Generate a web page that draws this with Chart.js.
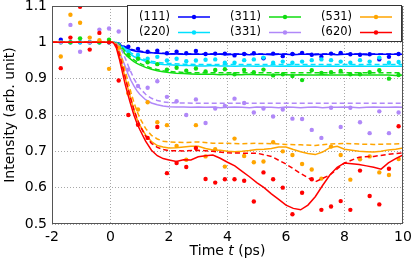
<!DOCTYPE html>
<html>
<head>
<meta charset="utf-8">
<script src="https://cdn.jsdelivr.net/npm/chart.js@4"></script>
<style>
  html, body { margin: 0; padding: 0; background: #fff; }
  #wrap { width: 415px; height: 260px; }
</style>
</head>
<body>
<div id="wrap"><canvas id="chart" width="415" height="260"></canvas></div>
<script>
const seriesLabels = ['(111)', '(220)', '(311)', '(331)', '(531)', '(620)'];
const seriesColors = ['#0000ff', '#00e0ff', '#11dd11', '#b088f8', '#ffa500', '#ff0000'];

const xTicks = [-2, 0, 2, 4, 6, 8, 10];
const yTicks = [0.5, 0.6, 0.7, 0.8, 0.9, 1, 1.1];

// measured points
const dotTime = [-1.70, -1.37, -1.04, -0.71, -0.38, -0.05, 0.28, 0.61, 0.94, 1.27, 1.60, 1.93,
  2.26, 2.59, 2.92, 3.25, 3.58, 3.91, 4.24, 4.57, 4.90, 5.23, 5.56, 5.89,
  6.22, 6.55, 6.88, 7.21, 7.54, 7.87, 8.20, 8.53, 8.86, 9.19, 9.52, 9.85];

const dots111 = [1.007, 1.0, 1.0, 1.0, 1.0, 1.0, 0.994, 0.988, 0.982, 0.974, 0.977, 0.970,
  0.974, 0.970, 0.976, 0.968, 0.969, 0.969, 0.964, 0.968, 0.970, 0.956, 0.969, 0.962,
  0.968, 0.971, 0.966, 0.960, 0.969, 0.971, 0.967, 0.966, 0.967, 0.953, 0.960, 0.968];
const dots220 = [1.0, 1.0, 1.0, 1.0, 1.0, 1.0, 0.990, 0.975, 0.965, 0.955, 0.960, 0.950,
  0.955, 0.948, 0.950, 0.952, 0.953, 0.944, 0.944, 0.951, 0.953, 0.958, 0.944, 0.947,
  0.944, 0.947, 0.951, 0.953, 0.951, 0.947, 0.944, 0.951, 0.947, 0.958, 0.944, 0.946];
const dots311 = [1.0, 1.0, 1.011, 1.0, 1.0, 1.007, 0.990, 0.965, 0.955, 0.945, 0.940, 0.925,
  0.930, 0.922, 0.928, 0.920, 0.924, 0.926, 0.912, 0.924, 0.918, 0.925, 0.909, 0.912,
  0.907, 0.896, 0.923, 0.916, 0.918, 0.921, 0.912, 0.912, 0.918, 0.923, 0.900, 0.910];
const dots331 = [1.0, 1.048, 0.974, 1.0, 1.035, 1.038, 1.030, 0.925, 0.880, 0.875, 0.893, 0.850,
  0.838, 0.800, 0.843, 0.778, 0.818, 0.825, 0.845, 0.833, 0.807, 0.818, 0.796, 0.815,
  0.790, 0.789, 0.759, 0.737, 0.820, 0.767, 0.820, 0.780, 0.750, 0.810, 0.750, 0.807];
const dots531 = [0.961, 1.076, 1.054, 1.013, 1.006, 0.927, 0.985, 0.860, 0.815, 0.835, 0.780, 0.772,
  0.715, 0.677, 0.772, 0.686, 0.706, 0.658, 0.735, 0.687, 0.670, 0.672, 0.725, 0.700,
  0.690, 0.665, 0.650, 0.625, 0.713, 0.690, 0.622, 0.678, 0.686, 0.642, 0.635, 0.679];
const dots620 = [0.929, 1.013, 1.098, 0.980, 1.026, 1.0, 0.895, 0.800, 0.773, 0.737, 0.767, 0.640,
  0.668, 0.657, 0.709, 0.624, 0.614, 0.623, 0.623, 0.619, 0.562, 0.642, 0.623, 0.600,
  0.527, 0.586, 0.623, 0.539, 0.548, 0.563, 0.539, 0.647, 0.577, 0.554, 0.652, 0.769];

// solid curves
const lineTime = [-2, -1, 0, 0.1, 0.2, 0.3, 0.4, 0.5, 0.6, 0.7, 0.8, 0.9, 1.0, 1.2, 1.4, 1.6, 1.8,
  2.0, 2.25, 2.5, 2.75, 3.0, 3.25, 3.5, 3.75, 4.0, 4.25, 4.5, 4.75, 5.0, 5.25, 5.5, 5.75,
  6.0, 6.25, 6.5, 6.75, 7.0, 7.25, 7.5, 7.75, 8.0, 8.25, 8.5, 8.75, 9.0, 9.25, 9.5, 9.75, 10];

const line111 = [1, 1, 1, 1, 0.999, 0.995, 0.990, 0.986, 0.982, 0.979, 0.977, 0.975, 0.974, 0.972, 0.971, 0.970, 0.969,
  0.968, 0.968, 0.967, 0.968, 0.967, 0.967, 0.968, 0.967, 0.966, 0.967, 0.967, 0.966, 0.967, 0.967, 0.966, 0.967,
  0.967, 0.966, 0.967, 0.967, 0.966, 0.967, 0.967, 0.966, 0.967, 0.967, 0.967, 0.966, 0.967, 0.967, 0.967, 0.967, 0.967];
const line220 = [1, 1, 1, 1, 0.999, 0.993, 0.986, 0.978, 0.972, 0.966, 0.961, 0.957, 0.954, 0.948, 0.944, 0.941, 0.939,
  0.938, 0.937, 0.936, 0.936, 0.935, 0.935, 0.936, 0.935, 0.935, 0.934, 0.935, 0.935, 0.934, 0.935, 0.935, 0.934,
  0.935, 0.934, 0.934, 0.935, 0.934, 0.934, 0.935, 0.934, 0.934, 0.934, 0.935, 0.934, 0.934, 0.934, 0.934, 0.934, 0.934];
const line311 = [1, 1, 1, 1, 0.998, 0.990, 0.978, 0.968, 0.960, 0.953, 0.947, 0.942, 0.938, 0.931, 0.926, 0.922, 0.919,
  0.917, 0.915, 0.914, 0.913, 0.912, 0.912, 0.912, 0.911, 0.912, 0.911, 0.911, 0.912, 0.911, 0.911, 0.910, 0.911,
  0.911, 0.910, 0.911, 0.910, 0.910, 0.911, 0.910, 0.910, 0.910, 0.911, 0.910, 0.910, 0.910, 0.910, 0.910, 0.909, 0.910];
const line331 = [1, 1, 1, 1, 0.995, 0.975, 0.955, 0.935, 0.913, 0.895, 0.880, 0.867, 0.857, 0.842, 0.833, 0.828, 0.825,
  0.823, 0.822, 0.822, 0.821, 0.822, 0.821, 0.822, 0.820, 0.821, 0.822, 0.821, 0.820, 0.822, 0.821, 0.821, 0.820,
  0.822, 0.821, 0.820, 0.821, 0.822, 0.820, 0.821, 0.821, 0.822, 0.821, 0.820, 0.821, 0.822, 0.821, 0.821, 0.822, 0.821];
const line531 = [1, 1, 1, 1, 0.990, 0.965, 0.935, 0.903, 0.872, 0.843, 0.815, 0.790, 0.772, 0.745, 0.727, 0.716, 0.712,
  0.709, 0.710, 0.712, 0.714, 0.714, 0.708, 0.704, 0.703, 0.700, 0.699, 0.700, 0.702, 0.705, 0.706, 0.708, 0.712,
  0.712, 0.705, 0.699, 0.694, 0.691, 0.698, 0.710, 0.714, 0.706, 0.703, 0.700, 0.699, 0.698, 0.700, 0.704, 0.706, 0.709];
const line620 = [1, 1, 1, 0.999, 0.985, 0.955, 0.920, 0.885, 0.855, 0.827, 0.800, 0.778, 0.760, 0.728, 0.703, 0.688, 0.680,
  0.676, 0.672, 0.677, 0.676, 0.685, 0.688, 0.690, 0.681, 0.670, 0.660, 0.645, 0.630, 0.614, 0.600, 0.583, 0.568,
  0.552, 0.543, 0.539, 0.552, 0.575, 0.606, 0.635, 0.656, 0.668, 0.666, 0.664, 0.660, 0.656, 0.651, 0.668, 0.680, 0.690];

// dashed curves
const fitTime = [-2, 0, 0.1, 0.2, 0.3, 0.4, 0.5, 0.6, 0.7, 0.8, 0.9, 1.0, 1.2, 1.4, 1.6, 1.8, 2.0,
  2.5, 3, 3.5, 4, 4.5, 5, 5.5, 6, 6.5, 7, 7.5, 8, 8.5, 9, 9.5, 10];

const fit111 = [1, 1, 1, 0.999, 0.996, 0.992, 0.988, 0.984, 0.981, 0.979, 0.977, 0.976, 0.973, 0.972, 0.971, 0.970, 0.969,
  0.968, 0.968, 0.968, 0.968, 0.968, 0.968, 0.968, 0.968, 0.968, 0.968, 0.968, 0.968, 0.968, 0.968, 0.968, 0.968];
const fit220 = [1, 1, 1, 1, 0.996, 0.990, 0.983, 0.977, 0.971, 0.966, 0.962, 0.958, 0.952, 0.948, 0.945, 0.943, 0.942,
  0.940, 0.939, 0.939, 0.939, 0.939, 0.939, 0.939, 0.939, 0.939, 0.939, 0.939, 0.939, 0.939, 0.939, 0.939, 0.939];
const fit311 = [1, 1, 1, 0.999, 0.994, 0.985, 0.975, 0.966, 0.958, 0.952, 0.946, 0.942, 0.935, 0.929, 0.925, 0.922, 0.920,
  0.917, 0.916, 0.916, 0.916, 0.916, 0.916, 0.916, 0.916, 0.916, 0.916, 0.916, 0.916, 0.916, 0.916, 0.916, 0.916];
const fit331 = [1, 1, 1, 0.998, 0.990, 0.975, 0.957, 0.937, 0.918, 0.900, 0.886, 0.874, 0.857, 0.846, 0.840, 0.836, 0.834,
  0.833, 0.832, 0.832, 0.832, 0.832, 0.832, 0.832, 0.832, 0.832, 0.832, 0.832, 0.832, 0.832, 0.832, 0.832, 0.832];
const fit531 = [1, 1, 1, 0.995, 0.978, 0.952, 0.922, 0.892, 0.862, 0.835, 0.812, 0.792, 0.763, 0.744, 0.734, 0.728, 0.726,
  0.724, 0.726, 0.722, 0.722, 0.721, 0.722, 0.721, 0.719, 0.718, 0.716, 0.720, 0.722, 0.720, 0.719, 0.720, 0.721];
const fit620 = [1, 1, 1, 0.992, 0.968, 0.938, 0.905, 0.873, 0.843, 0.815, 0.792, 0.772, 0.742, 0.722, 0.711, 0.705, 0.702,
  0.701, 0.703, 0.700, 0.696, 0.695, 0.695, 0.686, 0.665, 0.639, 0.616, 0.635, 0.668, 0.684, 0.686, 0.692, 0.696];

const allDots = [dots111, dots220, dots311, dots331, dots531, dots620];
const allLines = [line111, line220, line311, line331, line531, line620];
const allFits = [fit111, fit220, fit311, fit331, fit531, fit620];

const FONT = '"DejaVu Sans", "Liberation Sans", sans-serif';

function pts(xs, ys) {
  return ys.map((y, i) => ({ x: xs[i], y: y }));
}

const datasets = [];
let order = 1000;
seriesLabels.forEach((label, i) => {
  const c = seriesColors[i];
  datasets.push({
    label: label + ' fit', data: pts(fitTime, allFits[i]), showLine: true,
    borderColor: c, borderWidth: 1.5, borderDash: [5, 3], pointRadius: 0, tension: 0, order: order--
  });
  datasets.push({
    label: label, data: pts(lineTime, allLines[i]), showLine: true,
    borderColor: c, borderWidth: 1.5, pointRadius: 0, tension: 0, order: order--
  });
  datasets.push({
    label: label + ' data', data: pts(dotTime, allDots[i]), showLine: false,
    backgroundColor: c, borderWidth: 0, pointRadius: 2.2, order: order--
  });
});

const decor = {
  id: 'decor',
  afterDraw(chart) {
    const ctx = chart.ctx;
    const a = chart.chartArea;
    ctx.save();
    // frame
    ctx.strokeStyle = '#555';
    ctx.lineWidth = 1;
    ctx.strokeRect(Math.round(a.left) + 0.5, Math.round(a.top) + 0.5,
      Math.round(a.right - a.left) - 1, Math.round(a.bottom - a.top) - 1);

    // axis titles
    ctx.fillStyle = '#000';
    ctx.font = '14px ' + FONT;
    ctx.textBaseline = 'middle';
    ctx.textAlign = 'center';
    ctx.save();
    ctx.translate(10, (a.top + a.bottom) / 2);
    ctx.rotate(-Math.PI / 2);
    ctx.fillText('Intensity (arb. unit)', 0, 0);
    ctx.restore();

    const parts = [['Time ', '14px ' + FONT], ['t', 'italic 14px ' + FONT], [' (ps)', '14px ' + FONT]];
    let total = 0;
    parts.forEach(p => { ctx.font = p[1]; total += ctx.measureText(p[0]).width; });
    let x = (a.left + a.right) / 2 - total / 2;
    ctx.textAlign = 'left';
    parts.forEach(p => { ctx.font = p[1]; ctx.fillText(p[0], x, 251); x += ctx.measureText(p[0]).width; });

    // legend
    const bx = 127.5, by = 5.5, bw = 274, bh = 36;
    ctx.fillStyle = '#fff';
    ctx.fillRect(bx, by, bw, bh);
    ctx.strokeStyle = '#333';
    ctx.strokeRect(bx, by, bw, bh);
    ctx.font = '11.5px ' + FONT;
    ctx.textAlign = 'right';
    const rowsY = [17, 32.5];
    const colTextRight = [170, 261, 352];
    seriesLabels.forEach((label, i) => {
      const col = Math.floor(i / 2), row = i % 2;
      const ty = rowsY[row];
      const tx = colTextRight[col];
      ctx.fillStyle = '#000';
      ctx.fillText(label, tx, ty);
      const x0 = tx + 8, x1 = tx + 40;
      ctx.strokeStyle = seriesColors[i];
      ctx.lineWidth = 1.5;
      ctx.beginPath();
      ctx.moveTo(x0, ty);
      ctx.lineTo(x1, ty);
      ctx.stroke();
      ctx.fillStyle = seriesColors[i];
      ctx.beginPath();
      ctx.arc((x0 + x1) / 2, ty, 2.2, 0, Math.PI * 2);
      ctx.fill();
    });
    ctx.restore();
  }
};

new Chart(document.getElementById('chart'), {
  type: 'scatter',
  data: { datasets: datasets },
  options: {
    responsive: false,
    animation: false,
    layout: { padding: { left: 0, right: 12, top: 6, bottom: 0 } },
    plugins: { legend: { display: false }, tooltip: { enabled: false } },
    scales: {
      x: {
        type: 'linear', min: -2, max: 10,
        afterBuildTicks: s => { s.ticks = xTicks.map(v => ({ value: v })); },
        afterFit: s => { s.height = 36; s.paddingLeft = 0; s.paddingRight = 0; },
        grid: { color: '#a8a8a8', lineWidth: 1, drawTicks: false },
        border: { display: false, dash: [1, 2] },
        ticks: { color: '#000', padding: 5, font: { family: FONT, size: 14 }, maxRotation: 0,
          callback: v => String(v) }
      },
      y: {
        type: 'linear', min: 0.5, max: 1.1,
        afterBuildTicks: s => { s.ticks = yTicks.map(v => ({ value: v })); },
        afterFit: s => { s.width = 52; s.paddingTop = 0; s.paddingBottom = 0; },
        grid: { color: '#a8a8a8', lineWidth: 1, drawTicks: false },
        border: { display: false, dash: [1, 2] },
        ticks: { color: '#000', padding: 5, font: { family: FONT, size: 14 },
          callback: v => String(v) }
      }
    }
  },
  plugins: [decor]
});
</script>
</body>
</html>
